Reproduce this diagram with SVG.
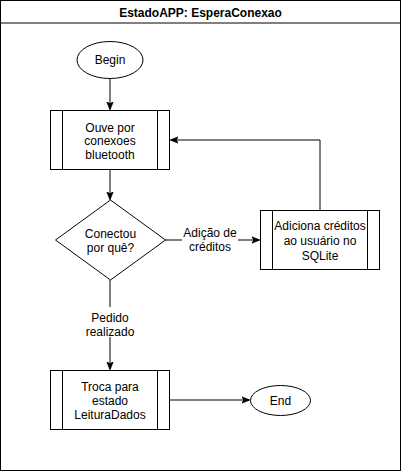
<svg xmlns="http://www.w3.org/2000/svg" width="401" height="471" viewBox="0 0 401 471">
<style>
.s{fill:#fff;stroke:#000;stroke-width:1}
.l{fill:none;stroke:#000;stroke-width:1}
text{font-family:"Liberation Sans",Arial,Helvetica,sans-serif;font-size:12px;fill:#000;text-anchor:middle}
.t{font-weight:bold}
</style>
<defs>
<marker id="a" viewBox="0 0 10 10" refX="9" refY="5" markerWidth="8" markerHeight="8" markerUnits="userSpaceOnUse" orient="auto">
<path d="M0,1 L10,5 L0,9 L2.5,5 Z" fill="#000" stroke="#000"/>
</marker>
</defs>
<g id="frame">
<rect class="s" x="0.5" y="0.5" width="400" height="470"/>
<line class="l" x1="0.5" y1="23" x2="400.5" y2="23"/>
<text class="t" x="200.5" y="17">EstadoAPP: EsperaConexao</text>
</g>
<g id="connectors">
<path class="l" d="M110,78 L110,109" marker-end="url(#a)"/>
<path class="l" d="M110,170 L110,199" marker-end="url(#a)"/>
<path class="l" d="M165,240 L259,240" marker-end="url(#a)"/>
<path class="l" d="M320,210 L320,140 L171,140" marker-end="url(#a)"/>
<path class="l" d="M110,280 L110,369" marker-end="url(#a)"/>
<path class="l" d="M170,400 L249,400" marker-end="url(#a)"/>
<rect x="182" y="225" width="56" height="30" fill="#fff"/>
<text x="210" y="237">Adição de</text>
<text x="210" y="251">créditos</text>
<rect x="84" y="307" width="52" height="30" fill="#fff"/>
<text x="110" y="322">Pedido</text>
<text x="110" y="336">realizado</text>
</g>
<g id="begin">
<ellipse class="s" cx="110" cy="60" rx="33" ry="18.5"/>
<text x="110" y="64">Begin</text>
</g>
<g id="ouve">
<rect class="s" x="50.5" y="110.5" width="119" height="59"/>
<line class="l" x1="62.5" y1="110.5" x2="62.5" y2="169.5"/>
<line class="l" x1="157.5" y1="110.5" x2="157.5" y2="169.5"/>
<text x="110" y="131.5">Ouve por</text>
<text x="110" y="145">conexoes</text>
<text x="110" y="159">bluetooth</text>
</g>
<g id="decisao">
<path class="s" d="M110.5,200 L165.5,240 L110.5,280 L55.5,240 Z"/>
<text x="110.5" y="237.5">Conectou</text>
<text x="110.5" y="252">por quê?</text>
</g>
<g id="adiciona">
<rect class="s" x="260.5" y="210.5" width="119" height="59"/>
<line class="l" x1="272.5" y1="210.5" x2="272.5" y2="269.5"/>
<line class="l" x1="367.5" y1="210.5" x2="367.5" y2="269.5"/>
<text x="320" y="230">Adiciona créditos</text>
<text x="320" y="245">ao usuário no</text>
<text x="320" y="259.5">SQLite</text>
</g>
<g id="troca">
<rect class="s" x="50.5" y="370.5" width="119" height="59"/>
<line class="l" x1="62.5" y1="370.5" x2="62.5" y2="429.5"/>
<line class="l" x1="157.5" y1="370.5" x2="157.5" y2="429.5"/>
<text x="110" y="391">Troca para</text>
<text x="110" y="405">estado</text>
<text x="110" y="419">LeituraDados</text>
</g>
<g id="end">
<ellipse class="s" cx="280.5" cy="400.5" rx="30" ry="15"/>
<text x="280.5" y="404.5">End</text>
</g>
</svg>
